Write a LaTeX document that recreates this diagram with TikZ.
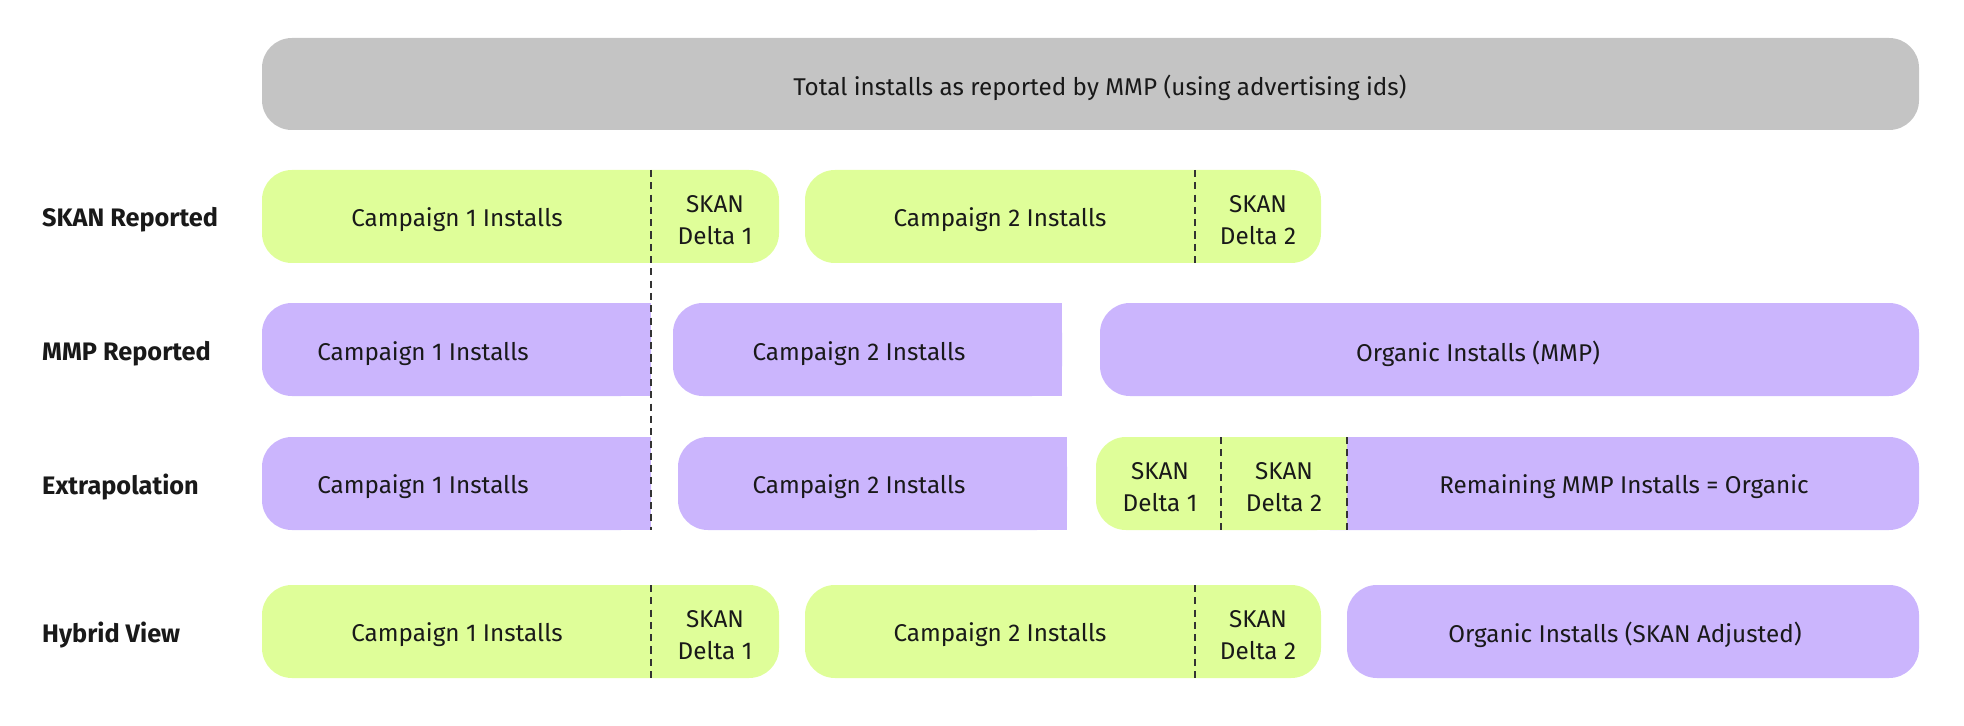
\documentclass[tikz,border=0pt]{standalone}
\usepackage{fontspec}
\setmainfont{Fira Sans}
\definecolor{skangreen}{HTML}{DFFE99}
\definecolor{mmppurple}{HTML}{CBB5FD}
\definecolor{totalgrey}{HTML}{C4C4C4}

\begin{document}
\begin{tikzpicture}[x=0.02cm, y=-0.02cm,
    txt/.style={font=\fontsize{13.8}{18}\selectfont, text=black!90, align=center, yshift=-2.2pt},
    lbl/.style={font=\fontsize{14.4}{18}\selectfont\bfseries, text=black!90, anchor=west, yshift=-2.2pt},
    rnd/.style={rounded corners=17pt},
    divider/.style={black!80, line width=0.8pt, dash pattern=on 4pt off 3pt}]
	\useasboundingbox (0,0) rectangle (1964,726);
	% total bar
	\fill[totalgrey, rnd] (262,38) rectangle (1919,130);
	\node[txt] (total) at (1100,84) {Total installs as reported by MMP (using advertising ids)};
	% row labels
	\foreach \y/\name/\txt in {216/skan/SKAN Reported, 350/mmp/MMP Reported, 483/extra/Extrapolation, 631/hybrid/Hybrid View}
		\node[lbl] (lbl-\name) at (36,\y) {\txt};
	% SKAN rows (reported + hybrid)
	\foreach \y/\name in {170/skan, 585/hybrid}{
		\fill[skangreen, rnd] (262,\y) rectangle (779,\y+93);
		\fill[skangreen, rnd] (805,\y) rectangle (1321,\y+93);
		\node[txt] (\name-c1) at (457,\y+46) {Campaign 1 Installs};
		\node[txt] (\name-d1) at (715,\y+46) {SKAN\\Delta 1};
		\node[txt] (\name-c2) at (1000,\y+46) {Campaign 2 Installs};
		\node[txt] (\name-d2) at (1258,\y+46) {SKAN\\Delta 2};
		\draw[divider] (1195,\y) -- (1195,\y+93);}
	\draw[divider] (651,585) -- (651,678);
	% MMP reported
	\fill[mmppurple, rnd] (262,303) rectangle (651,396);
	\fill[mmppurple] (600,303) rectangle (651,396);
	\fill[mmppurple, rnd] (673,303) rectangle (1062,396);
	\fill[mmppurple] (1010,303) rectangle (1062,396);
	\fill[mmppurple, rnd] (1100,303) rectangle (1919,396);
	\node[txt] (mmp-c1) at (423,350) {Campaign 1 Installs};
	\node[txt] (mmp-c2) at (859,350) {Campaign 2 Installs};
	\node[txt] (mmp-org) at (1478,350) {Organic Installs (MMP)};
	% extrapolation
	\fill[mmppurple, rnd] (262,437) rectangle (651,530);
	\fill[mmppurple] (600,437) rectangle (651,530);
	\fill[mmppurple, rnd] (678,437) rectangle (1067,530);
	\fill[mmppurple] (1015,437) rectangle (1067,530);
	\fill[mmppurple, rnd] (1300,437) rectangle (1919,530);
	\fill[skangreen, rnd] (1096,437) rectangle (1347,530);
	\fill[skangreen] (1300,437) rectangle (1347,530);
	\node[txt] (extra-c1) at (423,483) {Campaign 1 Installs};
	\node[txt] (extra-c2) at (859,483) {Campaign 2 Installs};
	\node[txt] (extra-d1) at (1160,483) {SKAN\\Delta 1};
	\node[txt] (extra-d2) at (1284,483) {SKAN\\Delta 2};
	\node[txt] (extra-org) at (1624,483) {Remaining MMP Installs = Organic};
	\draw[divider] (1221,437) -- (1221,530);
	\draw[divider] (1347,437) -- (1347,530);
	% long divider
	\draw[divider] (651,170) -- (651,530);
	% hybrid organic
	\fill[mmppurple, rnd] (1347,585) rectangle (1919,678);
	\node[txt] (hybrid-org) at (1625,631) {Organic Installs (SKAN Adjusted)};

    \end{tikzpicture}
\end{document}
